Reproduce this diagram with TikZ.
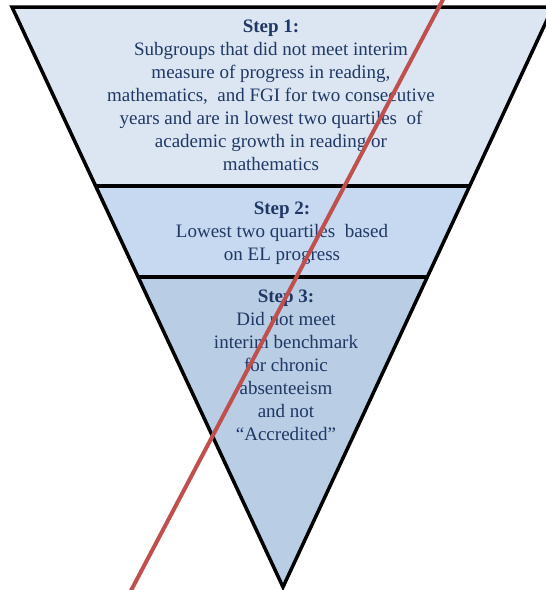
\documentclass[tikz,border=0pt]{standalone}
\usepackage{fontspec}
\setmainfont{Liberation Serif}
\definecolor{fillA}{HTML}{DCE6F2}
\definecolor{fillB}{HTML}{C6D9F0}
\definecolor{fillC}{HTML}{B9CDE5}
\definecolor{txt}{HTML}{1F3864}
\definecolor{redline}{HTML}{C0504D}
\tikzset{
  band/.style={draw=black, line width=3.5pt, line join=miter},
  steptext/.style={align=center, inner sep=0pt, anchor=north, text=txt,
    font=\fontsize{19}{23}\selectfont},
}
\begin{document}
\begin{tikzpicture}[x=1pt,y=-1pt]
\useasboundingbox (0,0) rectangle (546,590);
\clip (0,0) rectangle (546,590);
% corner coordinates
\coordinate (tl) at (12,7);
\coordinate (tr) at (553,7);
\coordinate (m1l) at (95,186);
\coordinate (m1r) at (470,186);
\coordinate (m2l) at (138,277);
\coordinate (m2r) at (428,277);
\coordinate (apex) at (283,587);
% bands
\fill[fillA] (tl) -- (tr) -- (m1r) -- (m1l) -- cycle;
\fill[fillB] (m1l) -- (m1r) -- (m2r) -- (m2l) -- cycle;
\fill[fillC] (m2l) -- (m2r) -- (apex) -- cycle;
\draw[band] (tl) -- (tr) -- (apex) -- cycle;
\draw[band] (m1l) -- (m1r);
\draw[band] (m2l) -- (m2r);
% texts
\node[steptext] (step1) at (271,20) {\textbf{Step 1:}\\
Subgroups that did not meet interim\\
measure of progress in reading,\\
mathematics,\ \ and FGI for two consecutive\\
years and are in lowest two quartiles\ \ of\\
academic growth in reading or\\
mathematics};
\node[steptext] (step2) at (282,202) {\textbf{Step 2:}\\
Lowest two quartiles\ \ based\\
on EL progress};
\node[steptext] (step3) at (286,290) {\textbf{Step 3:}\\
Did not meet\\
interim benchmark\\
for chronic\\
absenteeism\\
and not\\
“Accredited”};
% red strike line
\coordinate (r1) at (448,-10);
\coordinate (r2) at (126,600);
\draw[redline, line width=4pt] (r1) -- (r2);
\end{tikzpicture}
\end{document}
